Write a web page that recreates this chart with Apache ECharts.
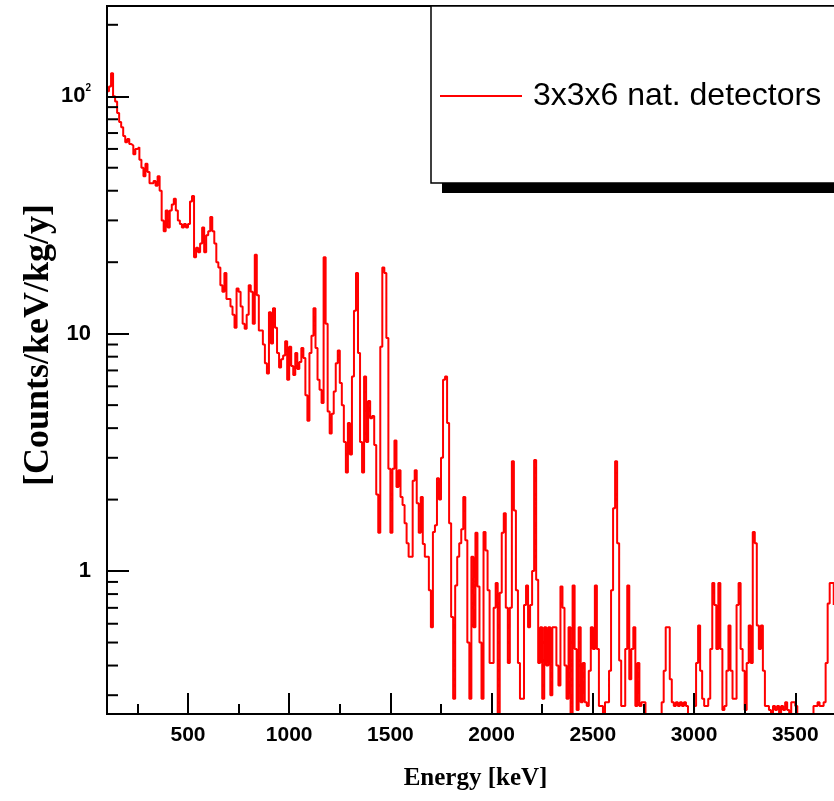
<!DOCTYPE html>
<html>
<head>
<meta charset="utf-8">
<title>Background spectrum</title>
<script src="https://cdn.jsdelivr.net/npm/echarts@6/dist/echarts.min.js"></script>
<style>
  html, body { margin: 0; padding: 0; background: #fff; }
  #chart { width: 834px; height: 801px; }
</style>
</head>
<body>
<div id="chart"></div>
<script>
// histogram bins: 10 keV wide, starting at 100 keV
const binStart = 100;
const binWidth = 10;

const counts100to600 = [
  105, 110, 125, 100, 95, 85, 78, 74, 68, 64,
  66, 63, 62, 57, 60, 61, 54, 50, 46, 52,
  48, 43, 43, 44, 42, 46, 40, 30, 27, 33,
  28, 33, 35, 37, 33, 30, 29, 28, 29, 28,
  29, 36, 38, 21, 23, 22, 24, 28, 22, 26
];
const counts600to1100 = [
  27, 31, 27, 24, 20, 19, 16, 15, 18, 14,
  14, 13, 12, 10.6, 15.5, 15, 13, 11, 10.5, 12,
  16, 15, 11, 21.5, 14.5, 10.3, 10.3, 9, 7.5, 6.8,
  12.3, 9.1, 12.8, 10.6, 8.3, 7.2, 7.8, 8.1, 9.3, 6.4,
  8.8, 7.3, 6.7, 8.3, 7.1, 7.6, 8.7, 7.9, 5.5, 4.3
];
const counts1100to1600 = [
  8.3, 9.8, 12.8, 8.7, 6.4, 5.8, 5.1, 21, 11, 4.7,
  3.8, 4.6, 5.7, 7.5, 8.5, 6.2, 5.0, 3.5, 2.6, 4.2,
  3.1, 6.6, 12.5, 18, 8.3, 3.5, 2.6, 6.6, 3.5, 5.2,
  4.4, 4.5, 3.4, 2.1, 1.45, 8.8, 19, 18, 9.6, 2.7,
  1.45, 2.7, 3.55, 2.26, 2.66, 2.05, 1.9, 1.59, 1.31, 1.15
];
const counts1600to2100 = [
  1.15, 2.4, 2.66, 1.93, 1.45, 2.05, 1.3, 1.15, 1.15, 0.83,
  0.58, 1.46, 1.56, 2.46, 2.0, 3.0, 6.4, 6.6, 4.2, 1.59,
  0.64, 0.29, 0.87, 1.15, 1.31, 1.5, 2.05, 1.35, 0.5, 0.29,
  1.15, 0.58, 1.45, 0.86, 0.5, 0.29, 1.46, 1.22, 0.83, 0.41,
  0.41, 0.7, 0.89, 0.1, 0.81, 1.45, 1.75, 0.7, 0.41, 0.7
];
const counts2100to2600 = [
  2.9, 1.8, 0.83, 0.41, 0.29, 0.29, 0.72, 0.87, 0.58, 0.72,
  1.0, 2.94, 0.92, 0.41, 0.58, 0.29, 0.58, 0.4, 0.58, 0.3,
  0.58, 0.58, 0.4, 0.33, 0.86, 0.7, 0.4, 0.29, 0.58, 0.1,
  0.87, 0.47, 0.26, 0.58, 0.28, 0.41, 0.28, 0.27, 0.38, 0.58,
  0.47, 0.87, 0.47, 0.27, 0.27, 0.1, 0.28, 0.28, 0.38, 0.83
];
const counts2600to3100 = [
  1.84, 2.9, 1.31, 0.42, 0.27, 0.27, 0.47, 0.87, 0.35, 0.47,
  0.58, 0.27, 0.41, 0.27, 0.28, 0.28, 0.1, 0.1, 0.1, 0.1,
  0.1, 0.1, 0.1, 0.1, 0.28, 0.38, 0.58, 0.58, 0.35, 0.28,
  0.27, 0.28, 0.27, 0.28, 0.27, 0.28, 0.27, 0.1, 0.1, 0.1,
  0.27, 0.41, 0.59, 0.38, 0.29, 0.27, 0.27, 0.29, 0.47, 0.89
];
const counts3100to3700 = [
  0.72, 0.47, 0.89, 0.47, 0.26, 0.27, 0.38, 0.59, 0.38, 0.29,
  0.29, 0.72, 0.89, 0.47, 0.38, 0.26, 0.41, 0.59, 0.41, 1.46,
  1.31, 0.59, 0.47, 0.59, 0.38, 0.27, 0.27, 0.26, 0.1, 0.27,
  0.26, 0.27, 0.1, 0.27, 0.26, 0.28, 0.26, 0.1, 0.28, 0.28,
  0.27, 0.1, 0.1, 0.1, 0.1, 0.1, 0.1, 0.1, 0.1, 0.27,
  0.27, 0.28, 0.27, 0.27, 0.28, 0.41, 0.73, 0.89, 0.89, 0.72
];

const xMajorTicks = [500, 1000, 1500, 2000, 2500, 3000, 3500];
const xMinorTicks = [250, 750, 1250, 1750, 2250, 2750, 3250];
const yMinorTicks = [0.3, 0.4, 0.5, 0.6, 0.7, 0.8, 0.9,
  2, 3, 4, 5, 6, 7, 8, 9,
  20, 30, 40, 50, 60, 70, 80, 90, 200];

const seriesName = "3x3x6 nat. detectors";

const counts = [].concat(counts100to600, counts600to1100, counts1100to1600,
  counts1600to2100, counts2100to2600, counts2600to3100, counts3100to3700);
const spectrum = counts.map((v, i) => [binStart + i * binWidth, v]);

const sansFont = '"Liberation Sans", Arial, sans-serif';
const serifFont = '"Liberation Serif", "Times New Roman", serif';

const chart = echarts.init(document.getElementById("chart"));

chart.setOption({
  backgroundColor: "#fff",
  animation: false,
  grid: {
    show: true,
    left: 107,
    top: 6,
    width: 749,
    bottom: 87,
    containLabel: false,
    outerBoundsMode: "none",
    borderColor: "#000",
    borderWidth: 2,
    backgroundColor: "transparent"
  },
  graphic: [
    {
      // drop shadow under the legend box
      type: "rect",
      z: 1,
      silent: true,
      shape: { x: 442, y: 16, width: 420, height: 177 },
      style: { fill: "#000" }
    }
  ],
  legend: {
    data: [seriesName],
    z: 5,
    left: 431,
    top: 6,
    padding: [74, 120, 71, 9],
    backgroundColor: "#fff",
    borderColor: "#000",
    borderWidth: 1.5,
    icon: "rect",
    itemWidth: 82,
    itemHeight: 2,
    itemStyle: { color: "#ff0000" },
    textStyle: {
      fontFamily: sansFont,
      fontSize: 32,
      color: "#000",
      padding: [0, 0, 0, 6]
    }
  },
  xAxis: [
    {
      type: "value",
      min: 100,
      max: 3800,
      z: 10,
      name: "Energy [keV]",
      nameLocation: "middle",
      nameGap: 52,
      nameTextStyle: {
        fontFamily: serifFont,
        fontWeight: "bold",
        fontSize: 25,
        color: "#000",
        padding: [0, 12, 0, 0]
      },
      axisLine: { lineStyle: { color: "#000", width: 2 } },
      axisTick: {
        inside: true,
        length: 21,
        customValues: xMajorTicks,
        lineStyle: { color: "#000", width: 2 }
      },
      axisLabel: {
        customValues: xMajorTicks,
        margin: 11,
        fontFamily: sansFont,
        fontWeight: "bold",
        fontSize: 21,
        color: "#000",
        formatter: v => String(v)
      },
      splitLine: { show: false }
    },
    {
      type: "value",
      min: 100,
      max: 3800,
      z: 10,
      position: "bottom",
      axisLine: { show: false },
      axisTick: {
        inside: true,
        length: 10,
        customValues: xMinorTicks,
        lineStyle: { color: "#000", width: 2 }
      },
      axisLabel: { show: false },
      splitLine: { show: false }
    }
  ],
  yAxis: {
    type: "log",
    logBase: 10,
    min: 0.25,
    max: 240,
    z: 10,
    name: "[Counts/keV/kg/y]",
    nameLocation: "middle",
    nameGap: 50,
    nameMoveOverlap: false,
    nameTextStyle: {
      fontFamily: serifFont,
      fontWeight: "bold",
      fontSize: 36,
      color: "#000",
      padding: [0, 0, 0, 30]
    },
    axisLine: { lineStyle: { color: "#000", width: 2 } },
    axisTick: {
      inside: true,
      length: 22,
      lineStyle: { color: "#000", width: 2 }
    },
    axisLabel: {
      margin: 16,
      color: "#000",
      formatter: function (v) {
        const e = Math.log10(v);
        if (Math.abs(e - Math.round(e)) > 1e-6) return "";
        const d = Math.round(e);
        if (d === 2) return "{b|10}{s|2}";
        if (d === 1) return "{b|10}";
        if (d === 0) return "{b|1}";
        return "";
      },
      rich: {
        b: { fontFamily: sansFont, fontWeight: "bold", fontSize: 22, color: "#000" },
        s: { fontFamily: sansFont, fontWeight: "bold", fontSize: 10, color: "#000", padding: [0, 0, 16, 0] }
      }
    },
    splitLine: { show: false }
  },
  series: [
    {
      name: seriesName,
      type: "line",
      step: "end",
      symbol: "none",
      clip: true,
      data: spectrum,
      lineStyle: { color: "#ff0000", width: 2 },
      itemStyle: { color: "#ff0000" },
      z: 2
    },
    {
      // minor ticks of the log axis
      type: "custom",
      silent: true,
      z: 11,
      data: yMinorTicks.map(v => [binStart, v]),
      renderItem: function (params, api) {
        const p = api.coord([api.value(0), api.value(1)]);
        return {
          type: "line",
          shape: { x1: p[0], y1: p[1], x2: p[0] + 11, y2: p[1] },
          style: { stroke: "#000", lineWidth: 2 }
        };
      }
    }
  ]
});
</script>
</body>
</html>
